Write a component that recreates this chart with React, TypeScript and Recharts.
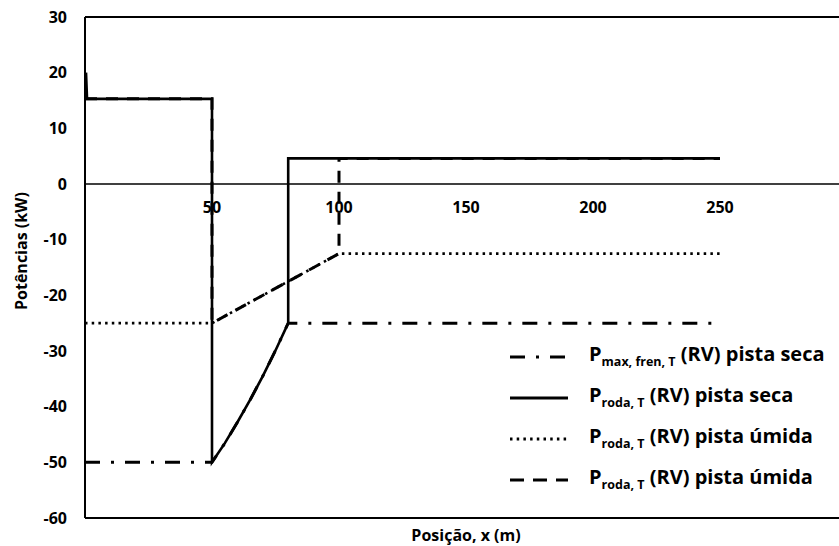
import { ComposedChart, Line, XAxis, YAxis, ReferenceLine, ReferenceDot } from "recharts";

const FONT = '"Open Sans", "Noto Sans", sans-serif';

// Posição x (m) / potência (kW)
const rodaSecaX = [0.4, 0.8, 50, 50, 55, 60, 65, 70, 75, 80, 80, 250];
const rodaSecaY = [20, 15.3, 15.3, -50, -46.6, -42.8, -38.8, -34.5, -29.9, -25, 4.6, 4.6];

const maxFrenSecaX = [0, 50, 55, 60, 65, 70, 75, 80, 250];
const maxFrenSecaY = [-50, -50, -46.6, -42.8, -38.8, -34.5, -29.9, -25, -25];

const rodaUmidaDotX = [0, 50, 100, 250];
const rodaUmidaDotY = [-25, -25, -12.5, -12.5];

const rodaUmidaDashX = [0, 50, 50, 100, 100, 250];
const rodaUmidaDashY = [15.3, 15.3, -25, -12.5, 4.6, 4.6];

const yTicks = [-60, -50, -40, -30, -20, -10, 0, 10, 20, 30];
const xTickLabels = [50, 100, 150, 200, 250];

const legendSubs = ["max, fren, T", "roda, T", "roda, T", "roda, T"];
const legendRests = ["(RV) pista seca", "(RV) pista seca", "(RV) pista úmida", "(RV) pista úmida"];

const toPoints = (xs: number[], ys: number[]) => xs.map((x, i) => ({ x, y: ys[i] }));

const series = [
  { data: toPoints(maxFrenSecaX, maxFrenSecaY), dash: "15 11 3 11", width: 3 },
  { data: toPoints(rodaUmidaDotX, rodaUmidaDotY), dash: "2.5 4.2", width: 2.6 },
  { data: toPoints(rodaUmidaDashX, rodaUmidaDashY), dash: "12 9", width: 3 },
  { data: toPoints(rodaSecaX, rodaSecaY), dash: undefined, width: 2.6 },
];

// amostras da legenda, na ordem da legenda
const legendDash = ["15 11 3 11", undefined, "2.5 4.2", "14 9"];

const bold = { fill: "#000", fontSize: 16, fontWeight: 700, fontFamily: FONT };

export default function App() {
  return (
    <div style={{ position: "absolute", left: 0, top: 0, width: 839, height: 546, overflow: "hidden", background: "#fff", fontFamily: FONT }}>
      <ComposedChart width={860} height={546} margin={{ top: 17, right: 13, left: 0, bottom: 0 }}>
        <XAxis
          dataKey="x"
          type="number"
          domain={[0, 300]}
          allowDataOverflow
          height={28}
          tick={false}
          tickLine={false}
          axisLine={{ stroke: "#000", strokeWidth: 2 }}
          label={{
            content: ({ viewBox }: any) => (
              <text x={viewBox.x + viewBox.width / 2} y={viewBox.y + 23} textAnchor="middle" style={bold}>
                Posição, x (m)
              </text>
            ),
          }}
        />
        <YAxis
          type="number"
          domain={[-60, 30]}
          ticks={yTicks}
          interval={0}
          width={85}
          tickSize={0}
          tickMargin={18}
          tickLine={false}
          axisLine={{ stroke: "#000", strokeWidth: 2 }}
          tick={bold}
          label={{
            content: () => (
              <text x={21} y={251} transform="rotate(-90, 21, 251)" textAnchor="middle" dominantBaseline="central" style={bold}>
                Potências (kW)
              </text>
            ),
          }}
        />
        <ReferenceLine y={30} stroke="#000" strokeWidth={2} />
        <ReferenceLine x={300} stroke="#000" strokeWidth={2} />
        <ReferenceLine y={0} stroke="#000" strokeWidth={1.6} />
        {xTickLabels.map((v) => (
          <ReferenceDot
            key={v}
            x={v}
            y={0}
            r={1}
            fill="none"
            stroke="none"
            label={{ value: String(v), position: "bottom", offset: 17, ...bold }}
          />
        ))}
        {series.map((s, i) => (
          <Line
            key={i}
            data={s.data}
            dataKey="y"
            type="linear"
            stroke="#000"
            strokeWidth={s.width}
            strokeDasharray={s.dash}
            dot={false}
            activeDot={false}
            legendType="none"
            isAnimationActive={false}
          />
        ))}
      </ComposedChart>
      <div style={{ position: "absolute", left: 508, top: 334 }}>
        {legendSubs.map((sub, i) => (
          <div key={i} style={{ display: "flex", alignItems: "center", height: 41, whiteSpace: "nowrap" }}>
            <svg width={62} height={20} style={{ marginRight: 19 }}>
              <line x1={2} y1={12} x2={60} y2={12} stroke="#000" strokeWidth={3} strokeDasharray={legendDash[i]} />
            </svg>
            <span style={{ fontSize: 20, fontWeight: 700, color: "#000" }}>
              P<sub style={{ fontSize: 12.5 }}>{sub}</sub> {legendRests[i]}
            </span>
          </div>
        ))}
      </div>
    </div>
  );
}
